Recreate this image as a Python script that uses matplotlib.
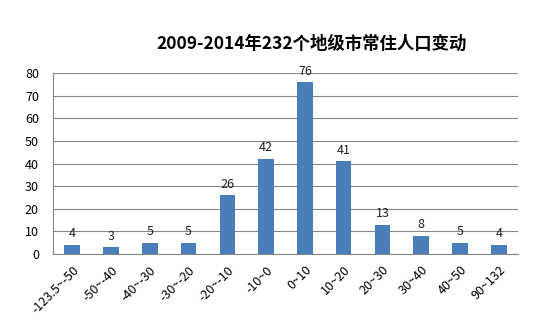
import matplotlib
matplotlib.use("Agg")
import matplotlib.pyplot as plt

plt.rcParams['font.family'] = ['Noto Sans CJK SC', 'DejaVu Sans']

categories = ["-123.5~-50", "-50~-40", "-40~-30", "-30~-20", "-20~-10", "-10~0",
              "0~10", "10~20", "20~30", "30~40", "40~50", "90~132"]
counts = [4, 3, 5, 5, 26, 42, 76, 41, 13, 8, 5, 4]
title = "2009-2014年232个地级市常住人口变动"

fig = plt.figure(figsize=(5.56, 3.28), dpi=100)
ax = fig.add_axes([0.095, 0.226, 0.837, 0.551])

x = range(len(categories))
ax.bar(x, counts, width=0.4, color="#4a7ebb", zorder=3)
for xi, v in zip(x, counts):
    ax.text(xi, v + 2, str(v), ha="center", va="bottom", fontsize=9, color="#222222")

ax.set_xlim(-0.5, len(categories) - 0.5)
ax.set_ylim(0, 80)
ax.set_yticks(range(0, 81, 10))
ax.yaxis.grid(True, color="#888888", linewidth=0.8, zorder=0)
ax.set_xticks(list(x))
ax.set_xticklabels(categories, rotation=45, ha="right", rotation_mode="anchor", fontsize=9)
ax.tick_params(axis="y", labelsize=9, length=0, pad=10)
ax.tick_params(axis="x", length=0, pad=7)
for s in ["top", "right"]:
    ax.spines[s].set_visible(False)
for s in ["left", "bottom"]:
    ax.spines[s].set_color("#888888")

fig.text(0.56, 0.865, title, ha="center", va="center", fontsize=12.5, fontweight="bold")

fig.savefig("out.png", dpi=100, facecolor="white")
